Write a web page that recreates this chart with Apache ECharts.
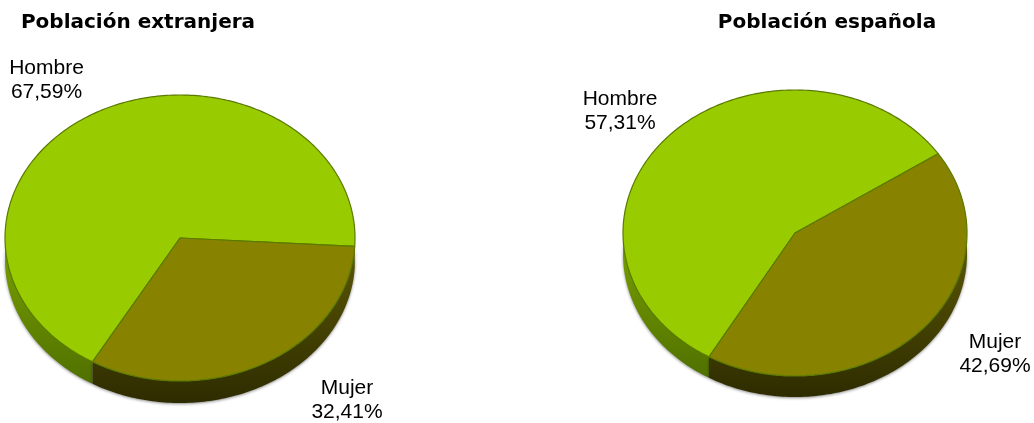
<!DOCTYPE html>
<html><head><meta charset="utf-8">
<script src="https://cdn.jsdelivr.net/npm/echarts@6/dist/echarts.min.js"></script>
<style>html,body{margin:0;padding:0;background:#fff}#c{width:1034px;height:423px}</style>
</head><body><div id="c"></div>
<script>
// ---- data ----
const categories = ['Hombre', 'Mujer'];
const pieTitles = ['Población extranjera', 'Población española'];
const extranjera = [67.59, 32.41];
const espanola = [57.31, 42.69];
const pieValues = [extranjera, espanola];

// ---- layout / style ----
const geom = [
  {cx: 180, cy: 238, rx: 175, ry: 143, depth: 22},
  {cx: 795, cy: 233, rx: 172, ry: 143, depth: 21}
];
const startAngle = 120; // degrees, clockwise on screen
const titlePos = [[138, 13], [827, 13]];
const labelPos = [[[46.5, 80], [347, 400]], [[620, 111], [995, 354]]];
const topColors = ['#99CC00', '#878300'];
const sideColors = [['#7aa200', '#4a6a00'], ['#5e5a05', '#2e2c00']];

function arcPts(g, a1, a2, dy) {
  const pts = [];
  const n = Math.max(2, Math.ceil(Math.abs(a2 - a1)) + 1);
  for (let i = 0; i < n; i++) {
    const a = (a1 + (a2 - a1) * i / (n - 1)) * Math.PI / 180;
    pts.push([g.cx + g.rx * Math.cos(a), g.cy + g.ry * Math.sin(a) + dy]);
  }
  return pts;
}
function fmt(v) { return v.toFixed(2).replace('.', ',') + '%'; }

function renderItem(params, api) {
  const p = api.value(0), s = api.value(1);
  const vals = pieValues[p];
  const tot = vals.reduce((a, b) => a + b, 0);
  let before = 0;
  for (let i = 0; i < s; i++) before += vals[i];
  const a1 = startAngle + before / tot * 360;
  const a2 = a1 + vals[s] / tot * 360;
  const g = geom[p];
  const children = [];
  for (const base of [0, 360]) {
    const lo = Math.max(a1, base), hi = Math.min(a2, base + 180);
    if (hi > lo) {
      const pts = arcPts(g, lo, hi, 0).concat(arcPts(g, hi, lo, g.depth));
      children.push({
        type: 'polygon', z2: 1,
        shape: {points: pts},
        style: {
          fill: {type: 'linear', x: 0, y: g.cy, x2: 0, y2: g.cy + g.ry + g.depth, global: true,
                 colorStops: [{offset: 0, color: sideColors[s][0]}, {offset: 1, color: sideColors[s][1]}]},
          shadowBlur: 3, shadowColor: 'rgba(0,0,0,0.45)', shadowOffsetY: 1
        }
      });
    }
  }
  children.push({
    type: 'polygon', z2: 10,
    shape: {points: [[g.cx, g.cy]].concat(arcPts(g, a1, a2, 0))},
    style: {fill: topColors[s], stroke: '#5a7a00', lineWidth: 1.2, lineJoin: 'round'}
  });
  const lp = labelPos[p][s];
  children.push({
    type: 'text', z2: 20,
    style: {
      x: lp[0], y: lp[1],
      text: categories[s] + '\n' + fmt(vals[s]),
      align: 'center', verticalAlign: 'middle',
      fontFamily: '"Liberation Sans", Arial, sans-serif', fontSize: 21, lineHeight: 24,
      fill: '#000'
    }
  });
  return {type: 'group', children: children};
}

const data = [];
pieValues.forEach((vals, p) => vals.forEach((v, s) => data.push([p, s, v])));

const chart = echarts.init(document.getElementById('c'), null, {renderer: 'canvas'});
chart.setOption({
  backgroundColor: '#ffffff',
  animation: false,
  graphic: pieTitles.map((t, i) => ({
    type: 'text', x: titlePos[i][0], y: titlePos[i][1],
    style: {text: t, align: 'center', verticalAlign: 'top',
            fontFamily: '"DejaVu Sans", sans-serif', fontWeight: 'bold', fontSize: 20, fill: '#000'}
  })),
  series: [{
    type: 'custom', coordinateSystem: 'none', silent: true,
    renderItem: renderItem,
    data: data
  }]
});
</script></body></html>
